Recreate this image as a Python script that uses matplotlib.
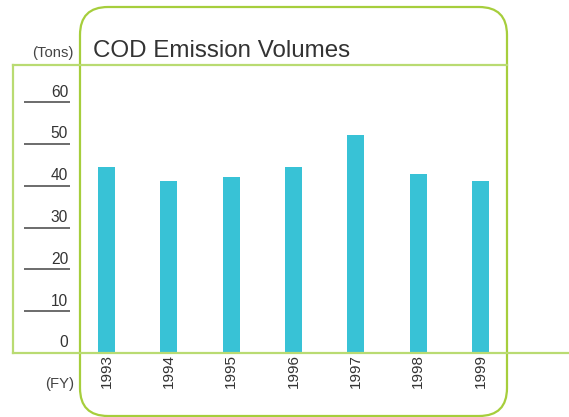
import matplotlib
matplotlib.use("Agg")
import matplotlib.pyplot as plt
from matplotlib.patches import FancyBboxPatch

plt.rcParams['font.family'] = ['Liberation Sans', 'DejaVu Sans']

# data
years = ['1993', '1994', '1995', '1996', '1997', '1998', '1999']
cod_tons = [44.5, 41.1, 42.1, 44.5, 52.1, 42.8, 41.1]
y_ticks = [0, 10, 20, 30, 40, 50, 60]

W, H = 569, 417
fig = plt.figure(figsize=(W / 100, H / 100), dpi=100)

# main plot area, pixel box x 80..507, y 65..353 (top-down)
ax = fig.add_axes([80 / W, (H - 353) / H, 427 / W, 288 / H])
ax.patch.set_visible(False)
xs = range(len(years))
ax.bar(xs, cod_tons, width=0.273, color='#38C2D6', zorder=2)
ax.set_xlim(-0.425, 6.425)
ax.set_ylim(0, 68.85)
for s in ax.spines.values():
    s.set_visible(False)
ax.set_yticks([])
ax.set_xticks(list(xs))
ax.set_xticklabels(years, rotation=90, fontsize=11, color='#333333', va='top')
ax.tick_params(axis='x', length=0, pad=1)

# left-hand scale: short rules with numbers above them
ytr = ax.get_yaxis_transform()
ax.hlines([t for t in y_ticks if t > 0], -0.131, -0.024, transform=ytr,
          colors='#444444', lw=1.1, clip_on=False)
for t in y_ticks:
    ax.text(-0.028, t + 0.6, str(t), transform=ytr, ha='right', va='bottom',
            fontsize=11.2, color='#333333', clip_on=False)

# decorations in pixel space
deco = fig.add_axes([0, 0, 1, 1], zorder=5)
deco.set_xlim(0, W)
deco.set_ylim(H, 0)
deco.axis('off')
deco.patch.set_visible(False)

box = FancyBboxPatch((80 + 28, 7 + 28), 427 - 56, 409 - 56,
                     boxstyle='round,pad=28', fill=False,
                     ec='#A6CE3C', lw=1.6)
deco.add_patch(box)
light = '#B9DB72'
deco.plot([13, 507], [65, 65], color=light, lw=1.6)
deco.plot([13, 13], [65, 353], color=light, lw=1.6)
deco.plot([13, 569], [353, 353], color=light, lw=1.6)

deco.text(93, 57, 'COD Emission Volumes', fontsize=17.4, color='#333333',
          ha='left', va='baseline')
deco.text(74, 57, '(Tons)', fontsize=10.7, color='#444444',
          ha='right', va='baseline')
deco.text(74, 388, '(FY)', fontsize=10.7, color='#444444',
          ha='right', va='baseline')

fig.savefig('out.png', dpi=100)
